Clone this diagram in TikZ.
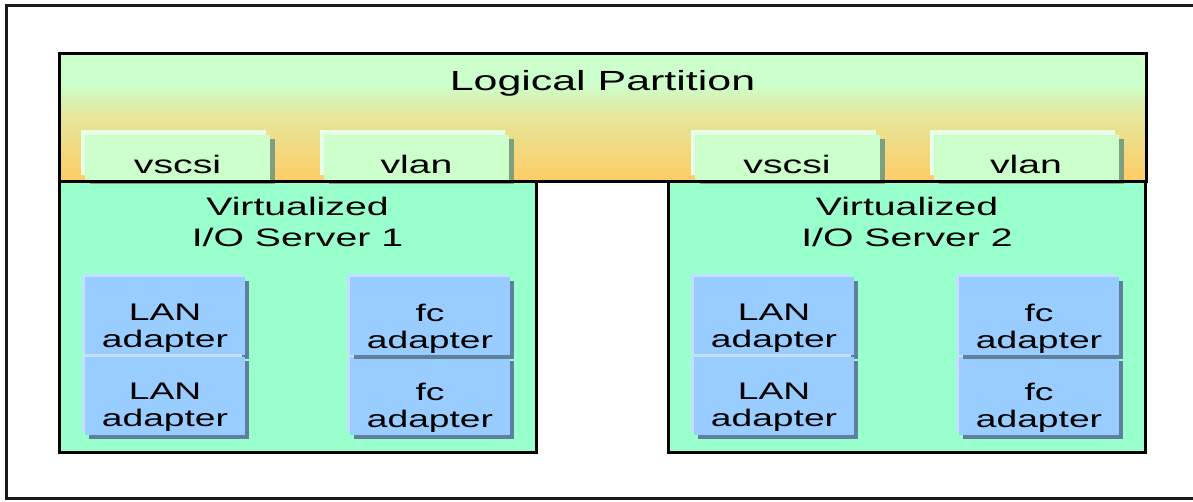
\documentclass[tikz,border=0pt]{standalone}
\usepackage{fontspec}
\setmainfont{Liberation Sans}[FakeStretch=1.55]
\usetikzlibrary{shadows}
\definecolor{lpgreen}{HTML}{CCFFCC}
\definecolor{lporange}{HTML}{FFCC66}
\colorlet{lpmid}{lpgreen!55!lporange}
\definecolor{viosfill}{HTML}{99FFCC}
\definecolor{tabfill}{HTML}{CCFFCC}
\definecolor{tabhigh}{HTML}{E6FFE6}
\definecolor{tabdark}{HTML}{7FA07F}
\definecolor{cellfill}{HTML}{99CCFF}
\definecolor{cellhigh}{HTML}{C4DFFF}
\definecolor{celldark}{HTML}{5F7F9F}
\pgfdeclareverticalshading{lparshade}{100bp}{color(0bp)=(lporange); color(25bp)=(lporange); color(52bp)=(lpmid); color(63bp)=(lpgreen); color(100bp)=(lpgreen)}

\begin{document}
\begin{tikzpicture}[x=1pt,y=-1pt,
  lpar/.style={draw=black,line width=3pt,shading=lparshade,minimum width=1087pt,
               minimum height=128pt,inner sep=0pt,outer sep=0pt},
  vios/.style={draw=black,line width=3pt,fill=viosfill,minimum width=477pt,
               minimum height=271pt,inner sep=0pt,outer sep=0pt},
  tab/.style={fill=tabfill,minimum width=185pt,minimum height=45pt,inner sep=0pt,
              general shadow={fill=tabdark,shadow xshift=5pt,shadow yshift=-4pt},
              general shadow={fill=tabhigh,shadow xshift=-4pt,shadow yshift=5pt}},
  cell/.style={fill=cellfill,minimum width=160pt,minimum height=78pt,inner sep=0pt,
               general shadow={fill=celldark,shadow xshift=4pt,shadow yshift=-4pt},
               general shadow={fill=cellhigh,shadow xshift=-3pt,shadow yshift=3pt}},
  ttl/.style={font=\fontsize{27.7}{33}\selectfont,anchor=base},
  srv/.style={font=\fontsize{25.3}{30.4}\selectfont,align=center},
  tabtxt/.style={font=\fontsize{25.3}{30.4}\selectfont,anchor=base},
  adp/.style={font=\fontsize{24}{27}\selectfont,align=center}
]
\useasboundingbox (0,0) rectangle (1193,501);

% ---- Outer frame ---------------------------------------------
\draw[black!90,line width=3pt] (6,5) rectangle (1200,498);

% ---- Logical partition and servers ---------------------------
\node[lpar] (lpar) at (602.5,117) {};
\node[ttl]  (lpart) at (602.5,90) {Logical Partition};

\node[vios] (viosA) at (297.5,316.5) {};
\node[vios] (viosB) at (907,316.5) {};
\node[srv]  (viosAt) at (297.5,222) {Virtualized\\I/O Server 1};
\node[srv]  (viosBt) at (907,222) {Virtualized\\I/O Server 2};

% ---- Virtual adapters -----------------------------------------
\node[tab] (vscsiA) at (177.5,157.5) {};
\node[tab] (vlanA)  at (416.5,157.5) {};
\node[tab] (vscsiB) at (787,157.5) {};
\node[tab] (vlanB)  at (1026,157.5) {};
\node[tabtxt] (vscsiAt) at (177.5,173) {vscsi};
\node[tabtxt] (vlanAt)  at (416.5,173) {vlan};
\node[tabtxt] (vscsiBt) at (787,173) {vscsi};
\node[tabtxt] (vlanBt)  at (1026,173) {vlan};

% partition border over the tabs
\draw[line width=3pt] (lpar.south west) -- (lpar.south east);

% ---- Server 1 physical adapters -------------------------------
\node[cell] (lanA1) at (165,316) {};
\node[cell] (lanA2) at (165,395.5) {};
\node[cell] (fcA2)  at (430,395.5) {};
\node[cell] (fcA1)  at (430,316) {};
\node[adp] (lanA1t) at (165,328.5) {LAN\\adapter};
\node[adp] (lanA2t) at (165,407.5) {LAN\\adapter};
\node[adp] (fcA1t)  at (430,328.5) {fc\\adapter};
\node[adp] (fcA2t)  at (430,407.5) {fc\\adapter};

% ---- Server 2 physical adapters -------------------------------
\node[cell] (lanB1) at (774,316) {};
\node[cell] (lanB2) at (774,395.5) {};
\node[cell] (fcB2)  at (1039,395.5) {};
\node[cell] (fcB1)  at (1039,316) {};
\node[adp] (lanB1t) at (774,328.5) {LAN\\adapter};
\node[adp] (lanB2t) at (774,407.5) {LAN\\adapter};
\node[adp] (fcB1t)  at (1039,328.5) {fc\\adapter};
\node[adp] (fcB2t)  at (1039,407.5) {fc\\adapter};

\end{tikzpicture}
\end{document}
